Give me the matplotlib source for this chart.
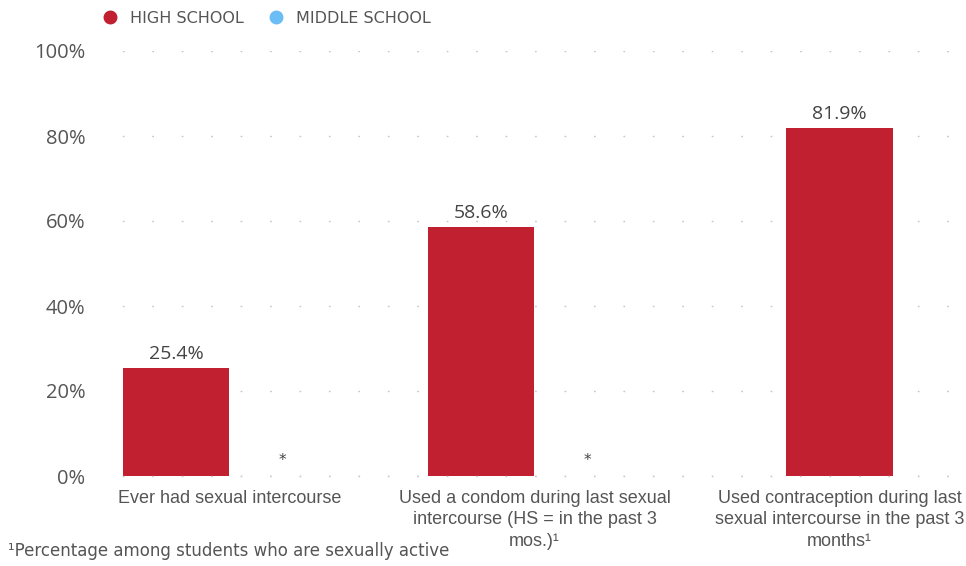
import matplotlib
matplotlib.use("Agg")
import matplotlib.pyplot as plt
from matplotlib.lines import Line2D

categories = [
    "Ever had sexual intercourse",
    "Used a condom during last sexual\nintercourse (HS = in the past 3\nmos.)\u00b9",
    "Used contraception during last\nsexual intercourse in the past 3\nmonths\u00b9",
]
series_names = ["HIGH SCHOOL", "MIDDLE SCHOOL"]
high_school = [25.4, 58.6, 81.9]
middle_school = [None, None, None]
middle_marks = ["*", "*", ""]
yticks = [0, 20, 40, 60, 80, 100]
ytick_labels = ["0%", "20%", "40%", "60%", "80%", "100%"]
footnote = "\u00b9Percentage among students who are sexually active"

RED = "#C0202F"
BLUE = "#6BBDF5"
TXT = "#555555"

fig = plt.figure(figsize=(9.66, 5.66), dpi=100)
ax = fig.add_axes([95 / 966, 1 - 476 / 566, 860 / 966, 425 / 566])

bw = 0.35
off = 0.175
for i, v in enumerate(high_school):
    has_ms = middle_marks[i] != "" or middle_school[i] is not None
    x = i - off if has_ms else i
    ax.bar(x, v, width=bw, color=RED, zorder=2)
    ax.text(x, v + 1.2, f"{v:.1f}%", ha="center", va="bottom", fontsize=14,
            color="#444444", family="Open Sans")
    if middle_marks[i]:
        ax.text(i + off, 2.0, middle_marks[i], ha="center", va="bottom",
                fontsize=11, color="#444444", family="DejaVu Sans")

ax.set_xlim(-0.441, 2.379)
ax.set_ylim(0, 100)
ax.set_yticks(yticks)
ax.set_yticklabels(ytick_labels, family="Open Sans", fontsize=14.5, color=TXT)
ax.set_xticks(range(len(categories)))
ax.set_xticklabels(categories, family="Liberation Sans", fontsize=13, color=TXT,
                   linespacing=1.35)
ax.tick_params(axis="both", length=0)
ax.tick_params(axis="x", pad=10)
ax.tick_params(axis="y", pad=7)
for s in ax.spines.values():
    s.set_visible(False)
ax.yaxis.grid(True, color="#c4c4c4", linewidth=1.0, linestyle=(1.5, (1.2, 20)), zorder=1)
ax.set_axisbelow(True)
ax.axhline(0, color="#c4c4c4", linewidth=1.0, linestyle=(1.5, (1.2, 20)), zorder=3,
           clip_on=False)

handles = [Line2D([], [], marker="o", linestyle="", markersize=9, color=c)
           for c in (RED, BLUE)]
leg = fig.legend(handles, series_names, loc="upper left", bbox_to_anchor=(80 / 966, 1.006),
                 ncol=2, frameon=False, handletextpad=0.25, columnspacing=1.0,
                 prop={"family": "DejaVu Sans", "size": 11.5})
for t in leg.get_texts():
    t.set_color(TXT)

fig.text(8 / 966, 1 - 551 / 566, footnote, ha="left", va="center", fontsize=12,
         color=TXT, family="DejaVu Sans")

fig.savefig("out.png", dpi=100)
